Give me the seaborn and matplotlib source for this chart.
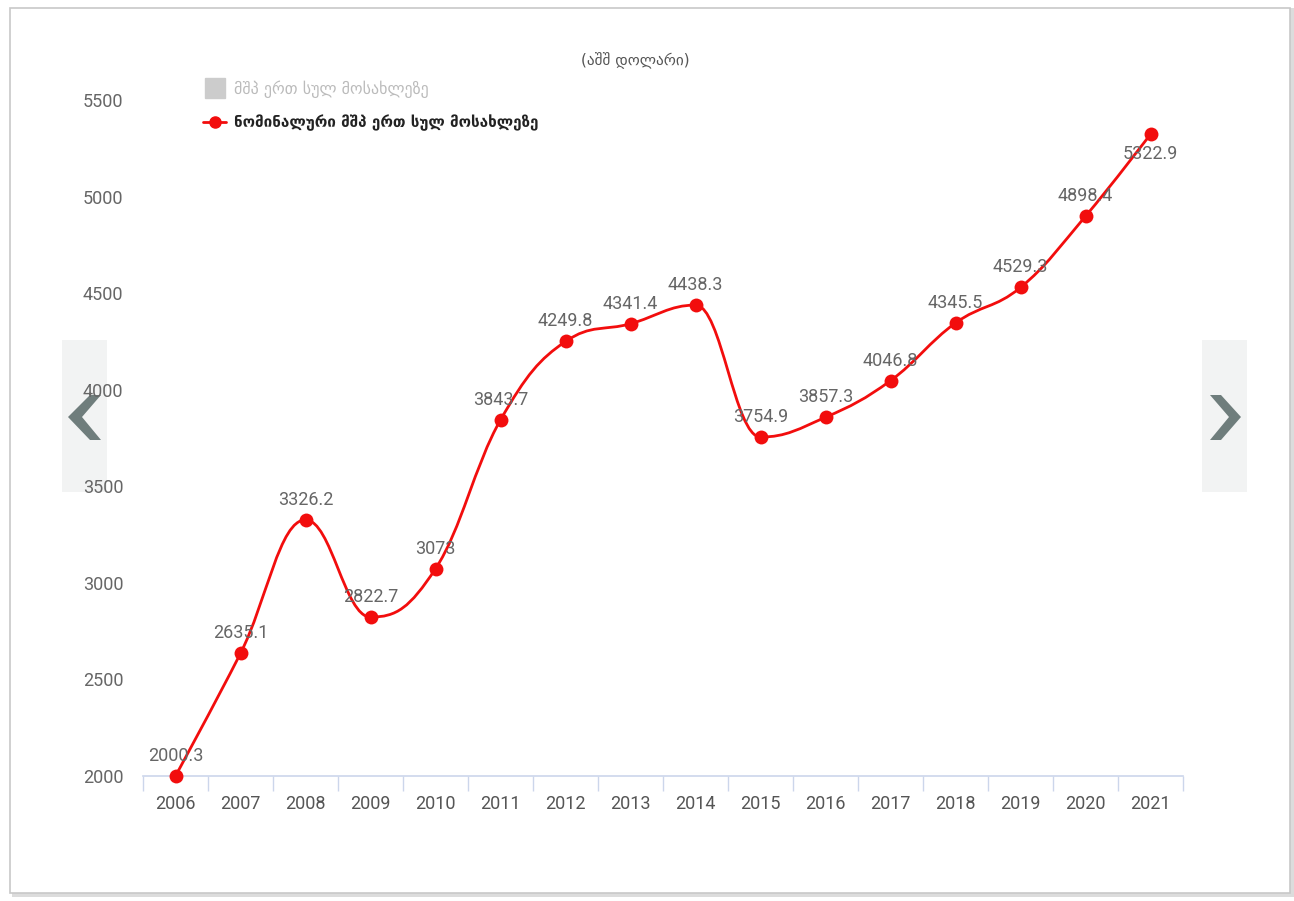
import matplotlib
matplotlib.use("Agg")
import matplotlib.pyplot as plt
from matplotlib.path import Path
from matplotlib.patches import PathPatch, Rectangle, Polygon
from matplotlib.lines import Line2D
import seaborn as sns
import numpy as np
import pandas as pd

years = [str(y) for y in range(2006, 2022)]
gdp_per_capita = [2000.3, 2635.1, 3326.2, 2822.7, 3073.0, 3843.7, 4249.8, 4341.4,
                  4438.3, 3754.9, 3857.3, 4046.8, 4345.5, 4529.3, 4898.4, 5322.9]
value_labels = ["2000.3", "2635.1", "3326.2", "2822.7", "3073", "3843.7", "4249.8",
                "4341.4", "4438.3", "3754.9", "3857.3", "4046.8", "4345.5", "4529.3",
                "4898.4", "5322.9"]
y_ticks = [2000, 2500, 3000, 3500, 4000, 4500, 5000, 5500]

title_text = "(აშშ დოლარი)"
legend_gray = "მშპ ერთ სულ მოსახლეზე"
legend_red = "ნომინალური მშპ ერთ სულ მოსახლეზე"

RED = "#f20d0d"
NUM_FONT = ["Liberation Sans Narrow", "Roboto", "DejaVu Sans"]


def spline_path(xs, ys, smoothing=1.5):
    """Bezier control points the way Highcharts builds its 'spline' series."""
    denom = smoothing + 1
    n = len(xs)
    left = [None] * n
    right = [None] * n
    for i in range(n):
        x, y = xs[i], ys[i]
        if i == 0 or i == n - 1:
            left[i] = (x, y)
            right[i] = (x, y)
            continue
        lx, ly = xs[i - 1], ys[i - 1]
        nx, ny = xs[i + 1], ys[i + 1]
        lcx = (smoothing * x + lx) / denom
        lcy = (smoothing * y + ly) / denom
        rcx = (smoothing * x + nx) / denom
        rcy = (smoothing * y + ny) / denom
        if rcx != lcx:
            corr = (rcy - lcy) * (rcx - x) / (rcx - lcx) + y - rcy
            lcy += corr
            rcy += corr
        if lcy > ly and lcy > y:
            lcy = max(ly, y)
            rcy = 2 * y - lcy
        elif lcy < ly and lcy < y:
            lcy = min(ly, y)
            rcy = 2 * y - lcy
        if rcy > ny and rcy > y:
            rcy = max(ny, y)
            lcy = 2 * y - rcy
        elif rcy < ny and rcy < y:
            rcy = min(ny, y)
            lcy = 2 * y - rcy
        left[i] = (lcx, lcy)
        right[i] = (rcx, rcy)
    verts = [(xs[0], ys[0])]
    codes = [Path.MOVETO]
    for i in range(1, n):
        verts += [right[i - 1], left[i], (xs[i], ys[i])]
        codes += [Path.CURVE4] * 3
    return Path(verts, codes)


df = pd.DataFrame({"year": years, "value": gdp_per_capita})
df["pos"] = np.arange(len(df))

sns.set_style("white")
plt.rcParams["font.family"] = ["DejaVu Sans"]

fig = plt.figure(figsize=(12.94, 9.01), dpi=100)
W, H = 1294, 901

# outer frame and shadow
fig.patches.append(Rectangle((12 / W, 1 - 897 / H), 1282 / W, 889 / H,
                             transform=fig.transFigure, facecolor="#dcdcdc",
                             edgecolor="none", zorder=-3))
fig.patches.append(Rectangle((10 / W, 1 - 893 / H), 1280 / W, 885 / H,
                             transform=fig.transFigure, facecolor="white",
                             edgecolor="#c8c8c8", linewidth=1.2, zorder=-2))

# navigation buttons
for x0, pts in [(62, [(90, 395), (68, 417), (90, 440), (101, 440), (82, 417), (101, 395)]),
                (1202, [(1210, 395), (1229, 417), (1210, 440), (1221, 440), (1241, 417), (1221, 395)])]:
    fig.patches.append(Rectangle((x0 / W, 1 - 492 / H), 45 / W, 152 / H,
                                 transform=fig.transFigure, facecolor="#f2f3f3",
                                 edgecolor="none", zorder=-1))
    fig.patches.append(Polygon([(px / W, 1 - py / H) for px, py in pts], closed=True,
                               transform=fig.transFigure, facecolor="#6f7d7c",
                               edgecolor="none", zorder=-0.5))

ax = fig.add_axes([143 / W, 1 - 776 / H, 1040 / W, 676 / H])
ax.set_facecolor("none")
ax.set_zorder(1)

ax.add_patch(PathPatch(spline_path(df["pos"].tolist(), df["value"].tolist()),
                       facecolor="none", edgecolor=RED, linewidth=2.0,
                       clip_on=False, zorder=3))
sns.scatterplot(data=df, x="pos", y="value", ax=ax, color=RED, s=100,
                edgecolor=RED, linewidth=0, zorder=4, clip_on=False, legend=False)

last = len(df) - 1
for i, (p, v, lab) in enumerate(zip(df["pos"], df["value"], value_labels)):
    # the top point has no room above, so its label goes underneath
    dy, va = ((0, -8), "top") if i == last else ((0, 8), "bottom")
    ax.annotate(lab, (p, v), xytext=dy, textcoords="offset points",
                ha="center", va=va, fontsize=13, color="#666666",
                family=NUM_FONT, zorder=5)

ax.set_xlim(-0.5, len(years) - 0.5)
ax.set_ylim(2000, 5500)
ax.set_xticks(df["pos"], years)
ax.set_xticks(np.arange(-0.5, len(years)), minor=True)
ax.set_yticks(y_ticks, [str(t) for t in y_ticks])
ax.tick_params(axis="x", which="major", bottom=False, length=0, pad=14,
               labelsize=13, labelcolor="#555555")
ax.tick_params(axis="x", which="minor", bottom=True, length=11, width=1,
               color="#ccd6eb", direction="out")
ax.tick_params(axis="y", length=0, pad=14, labelsize=13, labelcolor="#666666")
for t in ax.get_xticklabels() + ax.get_yticklabels():
    t.set_family(NUM_FONT)
ax.set_xlabel("")
ax.set_ylabel("")
for side in ["top", "right", "left"]:
    ax.spines[side].set_visible(False)
ax.spines["bottom"].set_color("#ccd6eb")
ax.spines["bottom"].set_linewidth(1.2)

# title and legend
fig.text(635 / W, 1 - 61 / H, title_text, ha="center", va="center",
         fontsize=11, color="#555555")
handles = [
    Line2D([0], [0], color="#cccccc", linestyle="none", marker="s", markersize=15),
    Line2D([0], [0], color=RED, linewidth=2, marker="o", markersize=8),
]
leg = fig.legend(handles, [legend_gray, legend_red], loc="upper left",
                 bbox_to_anchor=(189 / W, 1 - 66 / H), frameon=False,
                 fontsize=11.5, handlelength=1.4, handletextpad=0.5,
                 labelspacing=1.05)
leg.get_texts()[0].set_color("#bbbbbb")
leg.get_texts()[1].set_color("#222222")
leg.get_texts()[1].set_fontweight("bold")
leg.get_texts()[1].set_fontsize(11)

fig.savefig("out.png", dpi=100)
